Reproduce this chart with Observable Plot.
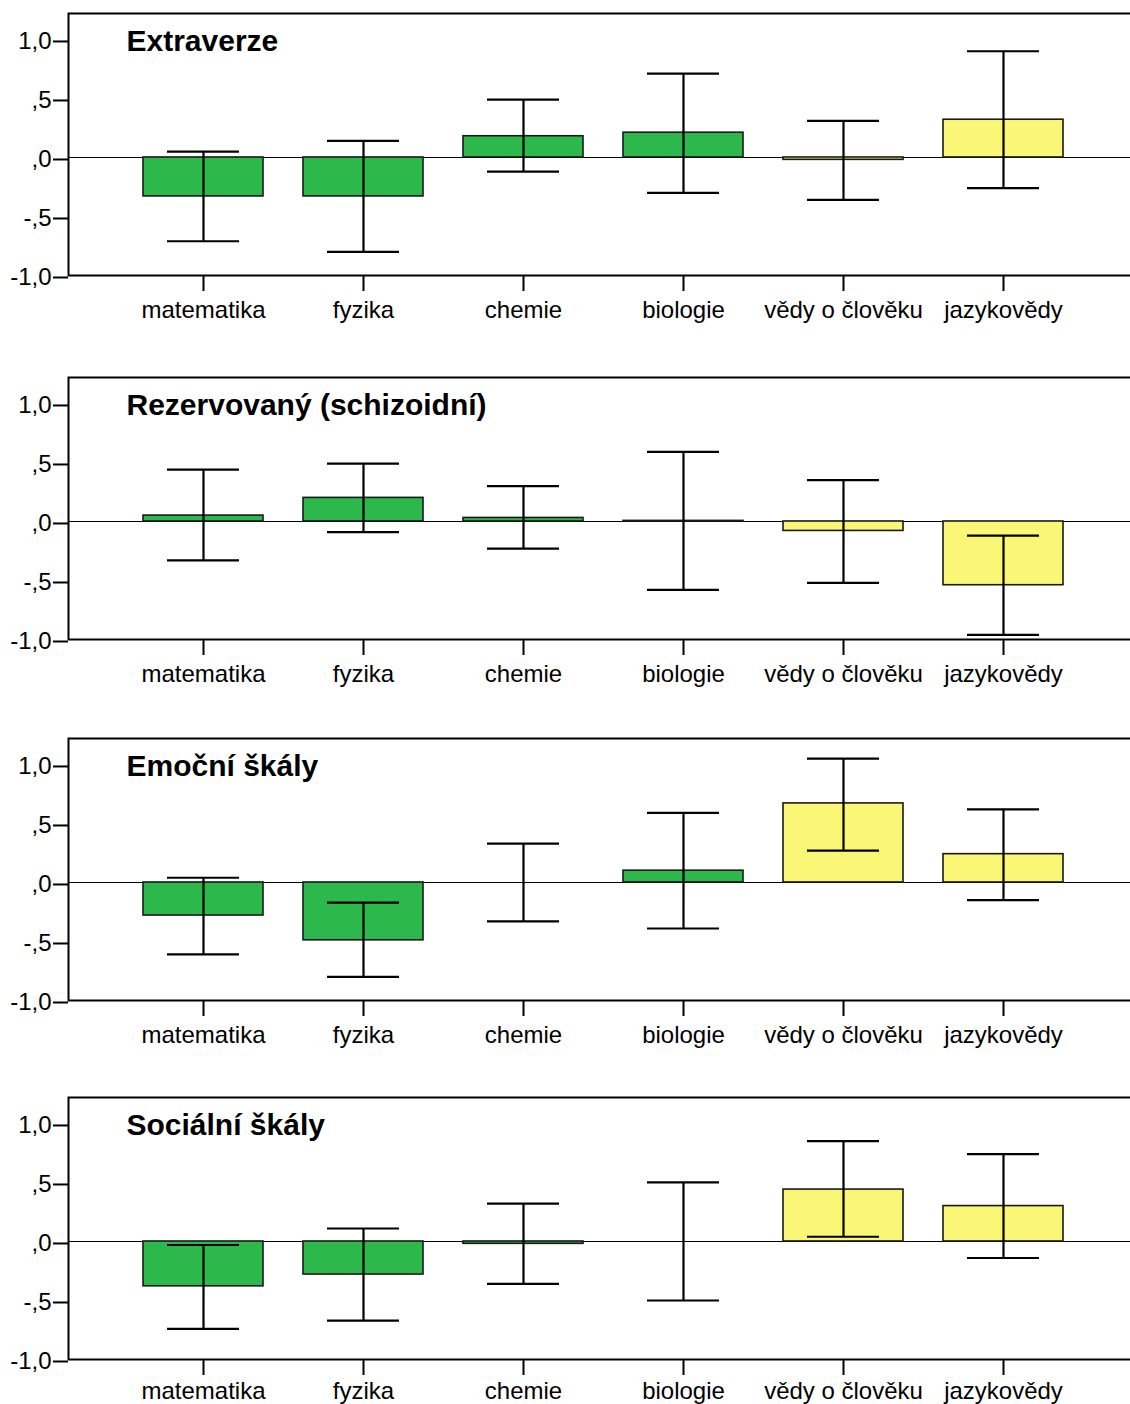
<!DOCTYPE html>
<html>
<head>
<meta charset="utf-8">
<script src="https://cdn.jsdelivr.net/npm/d3@7"></script>
<script src="https://cdn.jsdelivr.net/npm/@observablehq/plot@0.6"></script>
<style>
  html, body { margin: 0; padding: 0; background: #fff; }
  #wrap { width: 1130px; overflow: hidden; }
  #wrap svg { display: block; max-width: none !important; }
</style>
</head>
<body>
<div id="wrap"></div>
<script>
// ---- data ----
const categories = ["matematika", "fyzika", "chemie", "biologie", "vědy o člověku", "jazykovědy"];
const field = ["přírodní", "přírodní", "přírodní", "přírodní", "humanitní", "humanitní"];
const titles = ["Extraverze", "Rezervovaný (schizoidní)", "Emoční škály", "Sociální škály"];

const extraverzeMean = [-0.33, -0.33, 0.18, 0.21, -0.02, 0.32];
const extraverzeLo   = [-0.71, -0.80, -0.12, -0.30, -0.36, -0.26];
const extraverzeHi   = [0.05, 0.14, 0.49, 0.71, 0.31, 0.90];

const rezervMean = [0.05, 0.20, 0.03, 0.005, -0.08, -0.54];
const rezervLo   = [-0.33, -0.09, -0.23, -0.58, -0.52, -0.96];
const rezervHi   = [0.44, 0.49, 0.30, 0.59, 0.35, -0.12];

const emocniMean = [-0.28, -0.49, 0.0, 0.10, 0.67, 0.24];
const emocniLo   = [-0.61, -0.80, -0.33, -0.39, 0.27, -0.15];
const emocniHi   = [0.04, -0.17, 0.33, 0.59, 1.05, 0.62];

const socialniMean = [-0.38, -0.28, -0.02, 0.0, 0.44, 0.30];
const socialniLo   = [-0.74, -0.67, -0.36, -0.50, 0.04, -0.14];
const socialniHi   = [-0.03, 0.11, 0.32, 0.50, 0.85, 0.74];

const yTicks = [-1, -0.5, 0, 0.5, 1];
const yTickLabels = ["-1,0", "-,5", ",0", ",5", "1,0"];

const fieldDomain = ["přírodní", "humanitní"];
const fieldColors = ["#2db84b", "#f9f775"];

const panels = [
  [extraverzeMean, extraverzeLo, extraverzeHi],
  [rezervMean, rezervLo, rezervHi],
  [emocniMean, emocniLo, emocniHi],
  [socialniMean, socialniLo, socialniHi]
];
const heights = [364, 361, 359, 320];
const padding = [9, 9, 9, 6];
const plotH = 262;

const wrap = document.getElementById("wrap");
panels.forEach(([mean, lo, hi], p) => {
  const rows = categories.map((c, i) => ({cat: c, field: field[i], mean: mean[i], lo: lo[i], hi: hi[i]}));
  const h = heights[p];
  const chart = Plot.plot({
    width: 1138,
    height: h,
    marginLeft: 68,
    marginRight: 0,
    marginTop: 13,
    marginBottom: h - 13 - plotH,
    style: {fontFamily: "'Liberation Sans', Arial, sans-serif", color: "#000", background: "#fff", maxWidth: "none"},
    x: {domain: categories, paddingInner: 0.25, paddingOuter: 0.46, axis: null},
    y: {domain: [-1, 1.22], axis: null},
    color: {domain: fieldDomain, range: fieldColors},
    marks: [
      Plot.ruleY([0], {stroke: "#000", strokeWidth: 1.2}),
      Plot.barY(rows, {x: "cat", y: "mean", fill: "field", stroke: "#1a1a1a", strokeWidth: 1.6}),
      Plot.ruleX(rows, {x: "cat", y1: "lo", y2: "hi", stroke: "#000", strokeWidth: 2.2}),
      Plot.tickY(rows, {x: "cat", y: "lo", stroke: "#000", strokeWidth: 2.2, insetLeft: 24, insetRight: 24}),
      Plot.tickY(rows, {x: "cat", y: "hi", stroke: "#000", strokeWidth: 2.2, insetLeft: 24, insetRight: 24}),
      Plot.frame({stroke: "#000", strokeWidth: 2}),
      Plot.axisY({ticks: yTicks, tickFormat: (d) => yTickLabels[yTicks.indexOf(d)], tickSize: 15, tickPadding: 2, strokeWidth: 2, fontSize: 24, dy: 2, label: null}),
      Plot.axisX({tickSize: 16, tickPadding: padding[p], strokeWidth: 2, fontSize: 24, label: null}),
      Plot.text([titles[p]], {frameAnchor: "top-left", dx: 58, dy: 28, textAnchor: "start", lineAnchor: "middle", fontWeight: "bold", fontSize: 30, fill: "#000"})
    ]
  });
  wrap.appendChild(chart);
});
</script>
</body>
</html>
